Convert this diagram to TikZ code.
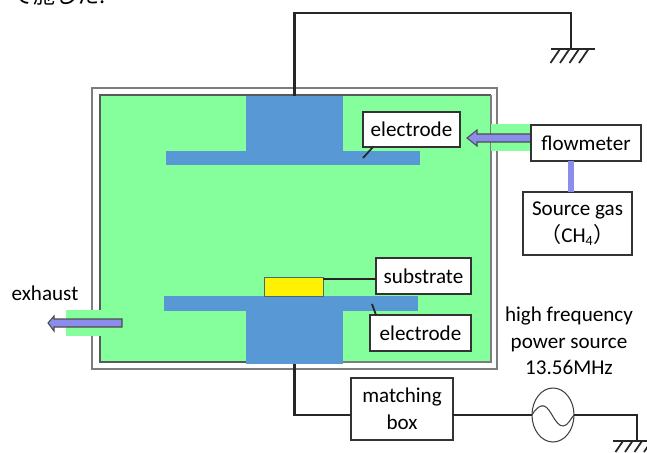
\documentclass[tikz,border=0pt]{standalone}
\usepackage{fontspec}
\setmainfont{Carlito}
\newfontfamily\cjkfont{Noto Sans CJK JP}
\usetikzlibrary{shapes.geometric,calc}
\definecolor{gasgreen}{RGB}{132,255,155}
\definecolor{platblue}{RGB}{88,152,212}
\definecolor{flowblue}{RGB}{140,140,235}
\definecolor{wallgray}{RGB}{125,125,125}
\begin{document}
\begin{tikzpicture}[
    x=0.2mm, y=-0.2mm,
    wire/.style={line width=1.4pt, black!85},
    leader/.style={line width=1pt, black!85},
    label/.style={draw=black!80, line width=0.6pt, fill=white, align=center, font=\fontsize{12}{15.2}\selectfont, inner sep=0pt, outer sep=0pt},
    plain/.style={font=\fontsize{12}{15.2}\selectfont, align=center, inner sep=0pt},
    plate/.style={fill=platblue, inner sep=0pt, outer sep=0pt},
    flowarr/.style={draw=black!70, line width=0.6pt, fill=flowblue},
    flowlink/.style={flowblue, line width=1.2mm}
]
\useasboundingbox (0,0) rectangle (647,452);
% chamber
\draw[wallgray, line width=0.8pt] (92,88) rectangle (497,369);
\fill[gasgreen] (100,95) rectangle (491,362);
\draw[black!65, line width=0.6pt] (246,362) -- (100,362) -- (100,95) -- (491,95);
\draw[wallgray, line width=0.6pt] (491,95) -- (491,362) -- (343,362);
% electrodes
\node[plate, minimum width=19.4mm, minimum height=11mm] (toppillar) at (294.5,123.5) {};
\node[plate, minimum width=50.8mm, minimum height=2.8mm] (topplate) at (293,158) {};
\node[plate, minimum width=50.8mm, minimum height=3mm] (botplate) at (291,303.5) {};
\node[plate, minimum width=19.4mm, minimum height=10.6mm] (botpillar) at (294.5,337.5) {};
\node[draw=black!60!cyan, fill=yellow, line width=0.5pt, minimum width=11.8mm, minimum height=3.8mm, inner sep=0pt] (sub) at (293.5,286.5) {};
% gas in
\fill[gasgreen] (491,124) rectangle (531,151);
\draw[flowarr] (531,134) -- (477,134) -- (477,130) -- (467,138) -- (477,146) -- (477,142) -- (531,142);
% exhaust
\fill[gasgreen] (66,310) rectangle (101,336);
\draw[flowarr] (122,319) -- (54,319) -- (54,316) -- (48,323) -- (54,331) -- (54,327) -- (122,327) -- cycle;
% labels
\node[label, minimum width=19.4mm, minimum height=7mm] (eltop) at (411.5,129.5) {electrode};
\node[label, minimum width=19mm, minimum height=7.2mm] (substr) at (423.5,276) {substrate};
\node[label, minimum width=20.2mm, minimum height=7.2mm] (elbot) at (420.5,333) {electrode};
\node[label, minimum width=22mm, minimum height=7.2mm] (flow) at (586,143) {flowmeter};
\node[label, minimum width=21.8mm, minimum height=12.6mm] (gas) at (577.5,223.5) {Source gas\\{\cjkfont （}CH\textsubscript{4}{\cjkfont ）}};
\node[label, minimum width=20.4mm, minimum height=12.4mm] (match) at (402,409) {matching\\box};
\node[plain] (exh) at (45,293) {exhaust};
\node[plain] (hf) at (569,341) {high frequency\\power source\\13.56MHz};
\node[draw=black!75, line width=0.6pt, ellipse, minimum width=8.4mm, minimum height=10.8mm, inner sep=0pt, outer sep=0pt] (ac) at (553,415) {};
\node[font=\cjkfont\fontsize{12.5}{15}\selectfont, inner sep=0pt, anchor=base west] (note) at (11,3) {で施した.};
% wires
\coordinate (wiretop) at (571,13);
\coordinate (gndtop) at (571,49);
\coordinate (matchin) at (351,415);
\coordinate (matchout) at (453,415);
\coordinate (gndbot) at (637,441);
\draw[wire] (toppillar.north) |- (wiretop) -- (gndtop);
\draw[wire] (botpillar.south) |- (matchin);
\draw[wire] (matchout) -- (ac.west);
\draw[wire] (ac.east) -| (gndbot);
\draw[wire] (gndtop) ++(-20,0) -- ++(44,0);
\foreach \i in {0,1,2,3} \draw[leader] ($(gndtop)+(-11+\i*9.5,0)$) -- ++(-9.5,14);
\draw[wire] (gndbot) ++(-24,0) -- ++(34,0);
\foreach \i in {0,1,2,3} \draw[leader] ($(gndbot)+(-14+\i*9.5,0)$) -- ++(-7.5,11);
% sine
\draw[line width=0.6pt, black!75] (ac.west) .. controls (536,408) and (540,405) .. (544,406) .. controls (551,408) and (555,426) .. (563,426) .. controls (568,426) and (571,418) .. (ac.east);
% pointers and flow link
\coordinate (tiptop) at (363,158);
\coordinate (tipbot) at (372,304);
\coordinate (subtap) at (323,279);
\coordinate (linkx) at (571,176);
\draw[leader] ($(eltop.south west)+(10,0)$) -- (tiptop);
\draw[leader] (subtap) -- (subtap -| substr.west);
\draw[leader] (tipbot) -- ($(elbot.north west)+(6,0)$);
\draw[flowlink] (flow.south -| linkx) -- (gas.north -| linkx);
\end{tikzpicture}
\end{document}
